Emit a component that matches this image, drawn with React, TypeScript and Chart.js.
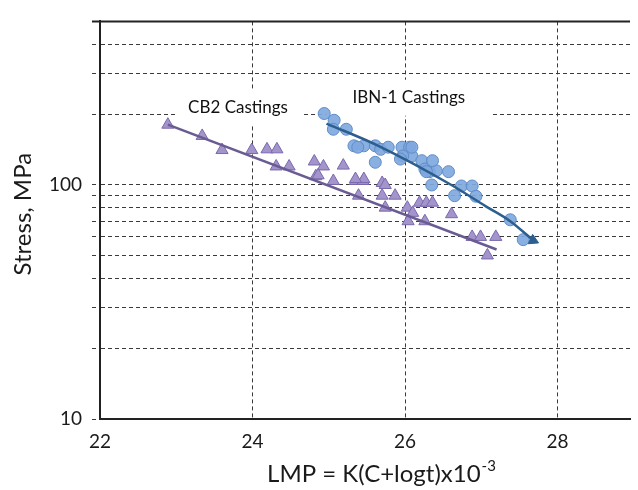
import React, { useEffect, useRef } from "react";
import { Chart, registerables } from "chart.js";

Chart.register(...registerables);

// ---- data ----
const X_TICKS = [22, 24, 26, 28];
const Y_TICKS = [10, 20, 30, 40, 50, 60, 70, 80, 90, 100, 200, 300, 400, 500];
const Y_LABELED = [10, 100];

const CB2_LMP = [
  22.89, 23.34, 23.6, 23.99, 24.19, 24.32, 24.31, 24.48, 24.81, 24.83, 24.93, 24.86,
  25.06, 25.19, 25.35, 25.45, 25.39, 25.7, 25.74, 25.7, 25.87, 25.74, 26.03, 26.1,
  26.04, 26.26, 26.19, 26.28, 26.36, 26.61, 26.88, 26.99, 27.19, 27.08, 25.46, 25.35,
];
const CB2_STRESS = [
  181, 162, 141, 141, 142, 142, 120, 120, 126, 109, 120, 110,
  104, 121, 104, 104, 90, 102, 100, 90, 90, 80, 80, 76,
  70, 70, 84, 84, 84, 75, 60, 60, 60, 50, 106, 106,
];

const IBN_LMP = [
  24.94, 25.07, 25.06, 25.23, 25.33, 25.46, 25.61, 25.68, 25.78, 25.96, 26.06, 26.09,
  25.97, 25.38, 26.22, 26.26, 26.32, 26.41, 26.57, 25.61, 26.35, 26.74, 26.88, 26.93,
  26.65, 27.38, 27.55, 25.94, 26.09, 26.36, 26.28,
];
const IBN_STRESS = [
  202, 189, 173, 173, 147, 147, 147, 142, 145, 145, 145, 133,
  133, 145, 127, 117, 114, 115, 114, 125, 100, 99, 99, 89.5,
  90, 71, 58.4, 129, 145, 127, 114,
];

const CB2_FIT_LMP = [22.89, 27.2];
const CB2_FIT_STRESS = [181, 53];

const IBN_FIT_LMP = [24.97, 25.65, 26.62, 27.06, 27.38, 27.68];
const IBN_FIT_STRESS = [183, 147, 99.5, 81, 70, 58];

const LABEL_TEXTS = ["CB2 Castings", "IBN-1 Castings"];
const LABEL_LMP = [23.81, 26.05];
const LABEL_STRESS = [214, 236];

const X_TITLE = "LMP = K(C+logt)x10";
const X_TITLE_SUP = "-3";
const Y_TITLE = "Stress, MPa";

// ---- styling (not data) ----
const FONT = "Lato, 'Open Sans', sans-serif";
const LABEL_BOX_W = [126, 165];
const LABEL_BOX_H = [36, 36];

const decorPlugin = {
  id: "decor",
  beforeDatasetsDraw(chart: any) {
    const { ctx, scales } = chart;
    const xs = scales.x;
    const ys = scales.y;
    ctx.save();
    ctx.font = `17px ${FONT}`;
    ctx.textAlign = "center";
    ctx.textBaseline = "middle";
    LABEL_TEXTS.forEach((t, i) => {
      const px = xs.getPixelForValue(LABEL_LMP[i]);
      const py = ys.getPixelForValue(LABEL_STRESS[i]);
      ctx.fillStyle = "#ffffff";
      ctx.fillRect(px - LABEL_BOX_W[i] / 2, py - LABEL_BOX_H[i] / 2, LABEL_BOX_W[i], LABEL_BOX_H[i]);
      ctx.fillStyle = "#111111";
      ctx.fillText(t, px, py);
    });
    ctx.restore();
  },
  afterDraw(chart: any) {
    const { ctx, chartArea } = chart;
    ctx.save();
    // top frame line
    ctx.strokeStyle = "#222222";
    ctx.lineWidth = 2;
    ctx.beginPath();
    ctx.moveTo(chartArea.left - 8, chartArea.top);
    ctx.lineTo(chartArea.right, chartArea.top);
    ctx.stroke();

    ctx.fillStyle = "#1a1a1a";
    // y title
    ctx.font = `24px ${FONT}`;
    ctx.textAlign = "center";
    ctx.textBaseline = "middle";
    ctx.save();
    ctx.translate(23, (chartArea.top + chartArea.bottom) / 2 - 6);
    ctx.rotate(-Math.PI / 2);
    ctx.fillText(Y_TITLE, 0, 0);
    ctx.restore();

    // x title with superscript
    ctx.textBaseline = "alphabetic";
    ctx.textAlign = "left";
    ctx.font = `24px ${FONT}`;
    const w1 = ctx.measureText(X_TITLE).width;
    ctx.font = `15px ${FONT}`;
    const w2 = ctx.measureText(X_TITLE_SUP).width;
    const cx = 381;
    const startX = cx - (w1 + w2) / 2;
    const base = 482;
    ctx.font = `24px ${FONT}`;
    ctx.fillText(X_TITLE, startX, base);
    ctx.font = `15px ${FONT}`;
    ctx.fillText(X_TITLE_SUP, startX + w1 + 1, base - 11);
    ctx.restore();
  },
};

export default function App() {
  const canvasRef = useRef<HTMLCanvasElement | null>(null);

  useEffect(() => {
    if (!canvasRef.current) return;
    const toPts = (xs: number[], ys: number[]) => xs.map((x, i) => ({ x, y: ys[i] }));
    const ibnFit = toPts(IBN_FIT_LMP, IBN_FIT_STRESS);
    const arrowRadius = ibnFit.map((_, i) => (i === ibnFit.length - 1 ? 6 : 0));

    const chart = new Chart(canvasRef.current, {
      type: "scatter",
      data: {
        datasets: [
          {
            type: "line",
            label: "CB2 fit",
            data: toPts(CB2_FIT_LMP, CB2_FIT_STRESS),
            borderColor: "#6a5c92",
            borderWidth: 2.5,
            pointRadius: 0,
            showLine: true,
            fill: false,
            order: 0,
          },
          {
            type: "line",
            label: "IBN-1 fit",
            data: ibnFit,
            borderColor: "#2d5f8e",
            backgroundColor: "#2d5f8e",
            borderWidth: 2.5,
            pointRadius: arrowRadius,
            pointStyle: "triangle",
            pointRotation: 115,
            pointBorderWidth: 1,
            cubicInterpolationMode: "monotone",
            showLine: true,
            fill: false,
            order: 0,
          },
          {
            label: "CB2 Castings",
            data: toPts(CB2_LMP, CB2_STRESS),
            pointStyle: "triangle",
            pointRadius: 7,
            backgroundColor: "#a395cc",
            borderColor: "#7a68ad",
            borderWidth: 1,
            order: 1,
          },
          {
            label: "IBN-1 Castings",
            data: toPts(IBN_LMP, IBN_STRESS),
            pointStyle: "circle",
            pointRadius: 6,
            backgroundColor: "rgba(128,168,222,0.92)",
            borderColor: "#5d8cc9",
            borderWidth: 1,
            order: 1,
          },
        ],
      },
      options: {
        responsive: false,
        animation: false,
        layout: { padding: { top: 15, right: 0, left: 0, bottom: 0 } },
        plugins: {
          legend: { display: false },
          tooltip: { enabled: false },
        },
        scales: {
          x: {
            type: "linear",
            min: 22,
            max: 28.95,
            afterBuildTicks: (s: any) => {
              s.ticks = X_TICKS.map((v) => ({ value: v }));
            },
            afterFit: (s: any) => {
              s.height = 71;
            },
            ticks: {
              autoSkip: false,
              maxRotation: 0,
              padding: 11,
              color: "#1a1a1a",
              font: { family: FONT, size: 19 },
            },
            grid: {
              color: "#3a3a3a",
              lineWidth: 1,
              drawTicks: false,
            },
            border: { display: true, color: "#222222", width: 2, dash: [4, 3] },
          },
          y: {
            type: "logarithmic",
            min: 10,
            max: 500,
            afterBuildTicks: (s: any) => {
              s.ticks = Y_TICKS.map((v) => ({ value: v }));
            },
            afterFit: (s: any) => {
              s.width = 100;
            },
            ticks: {
              autoSkip: false,
              padding: 10,
              color: "#1a1a1a",
              font: { family: FONT, size: 19 },
              callback: (v: any) => (Y_LABELED.includes(Number(v)) ? String(v) : ""),
            },
            grid: {
              color: "#3a3a3a",
              lineWidth: 1,
              drawTicks: true,
              tickLength: 8,
              tickColor: "#3a3a3a",
              tickBorderDash: [4, 3],
            },
            border: { display: true, color: "#222222", width: 2, dash: [4, 3] },
          },
        },
      },
      plugins: [decorPlugin],
    } as any);

    return () => chart.destroy();
  }, []);

  return (
    <div style={{ position: "fixed", left: 0, top: 0, width: 638, height: 490, background: "#fff" }}>
      <canvas ref={canvasRef} width={638} height={490} style={{ display: "block" }} />
    </div>
  );
}
